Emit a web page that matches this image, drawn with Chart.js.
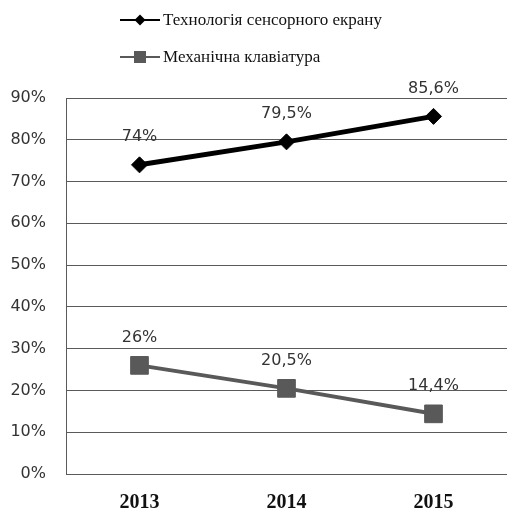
<!DOCTYPE html>
<html>
<head>
<meta charset="utf-8">
<script src="https://cdn.jsdelivr.net/npm/chart.js@4"></script>
<style>
  html,body{margin:0;padding:0;background:#fff;}
  #wrap{width:507px;height:516px;position:relative;}
</style>
</head>
<body>
<div id="wrap"><canvas id="c"></canvas></div>
<script>
const years = ["2013","2014","2015"];
const touchVals = [74, 79.5, 85.6];
const keysVals = [26, 20.5, 14.4];
const seriesNames = ["Технологія сенсорного екрану","Механічна клавіатура"];
const yTicks = [0,10,20,30,40,50,60,70,80,90];

const fmtPct = v => String(v).replace(".", ",") + "%";

// підписи значень над точками
const valueLabels = {
  id: "valueLabels",
  afterDatasetsDraw(chart) {
    const ctx = chart.ctx;
    ctx.save();
    ctx.font = "16px 'DejaVu Sans'";
    ctx.fillStyle = "#333";
    ctx.textAlign = "center";
    ctx.textBaseline = "middle";
    chart.data.datasets.forEach((ds, i) => {
      chart.getDatasetMeta(i).data.forEach((pt, j) => {
        ctx.fillText(fmtPct(ds.data[j]), pt.x, pt.y - 28);
      });
    });
    ctx.restore();
  }
};

// легенда у два рядки
const stackLegend = {
  id: "stackLegend",
  afterDraw(chart) {
    const ctx = chart.ctx;
    const rows = [20, 57];
    ctx.save();
    chart.data.datasets.forEach((ds, i) => {
      const y = rows[i];
      ctx.strokeStyle = ds.borderColor;
      ctx.lineWidth = 2;
      ctx.beginPath(); ctx.moveTo(120, y); ctx.lineTo(160, y); ctx.stroke();
      ctx.fillStyle = ds.borderColor;
      ctx.beginPath();
      if (ds.pointStyle === "rectRot") {
        ctx.moveTo(140, y - 5.5); ctx.lineTo(145.5, y); ctx.lineTo(140, y + 5.5); ctx.lineTo(134.5, y);
      } else {
        ctx.rect(134, y - 6, 12, 12);
      }
      ctx.fill();
      ctx.fillStyle = "#111";
      ctx.font = "17px 'Liberation Serif'";
      ctx.textBaseline = "middle";
      ctx.fillText(ds.label, 163, y + 1);
    });
    ctx.restore();
  }
};

new Chart(document.getElementById("c"), {
  type: "line",
  data: {
    labels: years,
    datasets: [
      {
        label: seriesNames[0], data: touchVals,
        borderColor: "#000", backgroundColor: "#000", borderWidth: 5,
        pointStyle: "rectRot", pointRadius: 8, pointBorderWidth: 1,
        pointBackgroundColor: "#000", pointBorderColor: "#000"
      },
      {
        label: seriesNames[1], data: keysVals,
        borderColor: "#595959", backgroundColor: "#595959", borderWidth: 4,
        pointStyle: "rect", pointRadius: 12.5, pointBorderWidth: 1,
        pointBackgroundColor: "#595959", pointBorderColor: "#595959"
      }
    ]
  },
  options: {
    responsive: true, maintainAspectRatio: false, animation: false,
    layout: { autoPadding: false, padding: { top: 98, left: 10, right: 0, bottom: 1 } },
    plugins: { legend: { display: false }, tooltip: { enabled: false } },
    scales: {
      x: {
        offset: true,
        grid: { display: false, drawTicks: false },
        border: { display: true, color: "#5a5a5a" },
        ticks: { color: "#111", padding: 17, font: { family: "'Liberation Serif'", size: 20, weight: "bold" } },
        afterFit: axis => { axis.paddingLeft = 0; axis.paddingRight = 0; axis.height = 41; }
      },
      y: {
        min: 0, max: 90,
        afterBuildTicks: axis => { axis.ticks = yTicks.map(v => ({ value: v })); },
        grid: { color: "#5a5a5a", lineWidth: 1, drawTicks: false },
        border: { display: true, color: "#5a5a5a" },
        ticks: { color: "#333", padding: 20, font: { family: "'DejaVu Sans'", size: 16 }, callback: v => v + "%" },
        afterFit: axis => { axis.width = 56; }
      }
    }
  },
  plugins: [valueLabels, stackLegend]
});
</script>
</body>
</html>
